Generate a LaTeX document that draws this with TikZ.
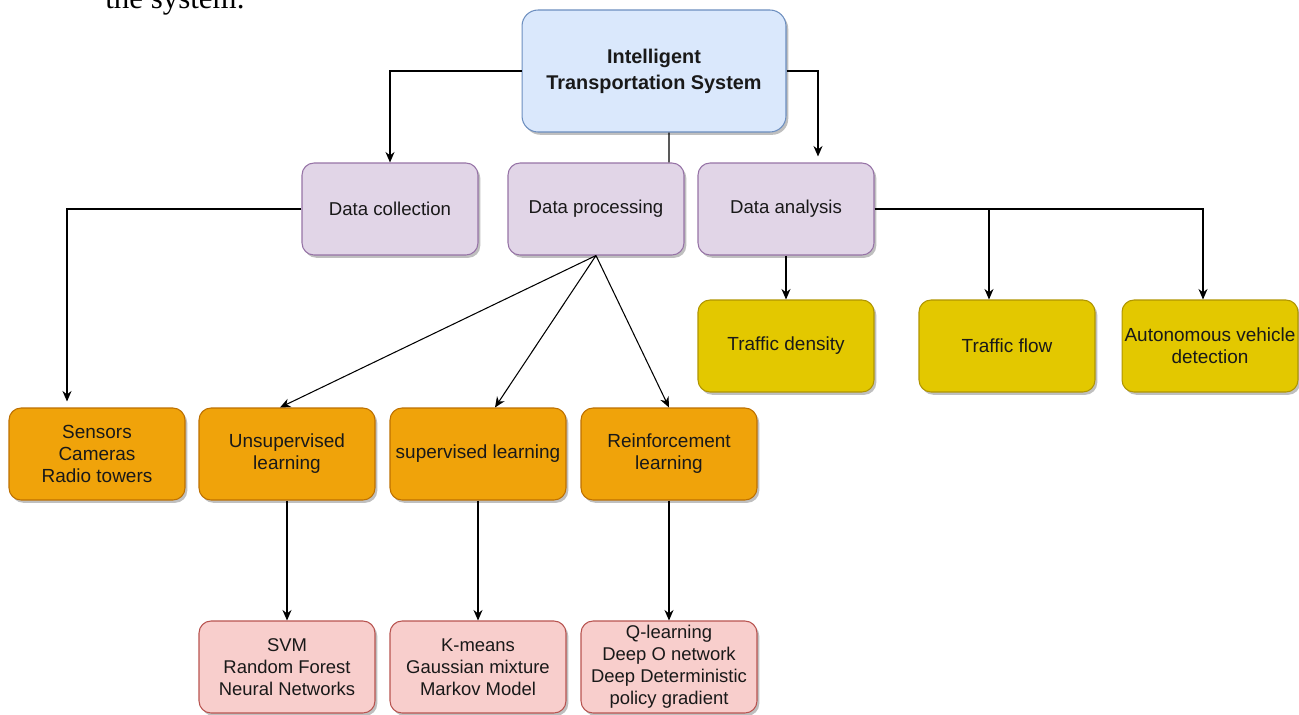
\documentclass[tikz,border=0pt]{standalone}
\usepackage{fontspec}
\setmainfont{Liberation Sans}
\newfontfamily\pageserif{Liberation Serif}
\usepackage{xcolor}
\usetikzlibrary{arrows.meta,positioning,shadows}
\definecolor{itsfill}{HTML}{DAE8FC}
\definecolor{itsedge}{HTML}{6C8EBF}
\definecolor{stagefill}{HTML}{E1D5E7}
\definecolor{stageedge}{HTML}{9673A6}
\definecolor{taskfill}{HTML}{E3C800}
\definecolor{taskedge}{HTML}{B09500}
\definecolor{methfill}{HTML}{F0A30A}
\definecolor{methedge}{HTML}{BD7000}
\definecolor{algfill}{HTML}{F8CECC}
\definecolor{algedge}{HTML}{B85450}

\begin{document}
\begin{tikzpicture}[
  x=0.02cm, y=-0.02cm,
  >={Stealth[length=2.1mm, width=1.8mm]},
  box/.style={rounded corners=0.24cm, line width=0.6pt, align=center,
              minimum width=3.52cm, minimum height=1.84cm, inner sep=1pt,
              text=black!90,
              drop shadow={shadow xshift=1.3pt, shadow yshift=-1.6pt,
                           opacity=0.25, fill=black}},
  top/.style={box, draw=itsedge, fill=itsfill, rounded corners=0.32cm,
              minimum width=5.28cm, minimum height=2.44cm,
              font=\bfseries\fontsize{11.3}{14.7}\selectfont},
  stage/.style={box, draw=stageedge, fill=stagefill,
                font=\fontsize{10.6}{12.5}\selectfont},
  task/.style={box, draw=taskedge, fill=taskfill,
               font=\fontsize{10.8}{12.5}\selectfont},
  meth/.style={box, draw=methedge, fill=methfill,
               font=\fontsize{10.8}{12.5}\selectfont},
  alg/.style={box, draw=algedge, fill=algfill,
              font=\fontsize{10.5}{12.6}\selectfont},
  link/.style={line width=0.6pt, black},
  arr/.style={->, line width=0.6pt, black},
]
\useasboundingbox (0,0) rectangle (1299,714);

% cut-off line of the surrounding page
\node[anchor=base west, inner sep=0pt, font=\pageserif\fontsize{17.6}{20}\selectfont]
  (pagetext) at (105,8) {the system.};

% root
\node[top] (its) at (654,71) {Intelligent\\Transportation System};

% stages
\node[stage] (dc) at (390,209) {Data collection};
\node[stage] (dp) at (596,209) {Data processing};
\node[stage] (da) at (786,209) {Data analysis};

% analysis tasks
\node[task] (td) at (786,346)  {Traffic density};
\node[task] (tf) at (1007,346) {Traffic flow};
\node[task] (av) at (1210,346) {Autonomous vehicle\\detection};

% sources and learning methods
\node[meth] (src) at (97,454)  {Sensors\\Cameras\\Radio towers};
\node[meth] (uns) at (287,454) {Unsupervised\\learning};
\node[meth] (sup) at (478,454) {supervised learning};
\node[meth] (rl)  at (669,454) {Reinforcement\\learning};

% algorithms
\node[alg] (a1) at (287,667) {SVM\\Random Forest\\Neural Networks};
\node[alg] (a2) at (478,667) {K-means\\Gaussian mixture\\Markov Model};
\node[alg] (a3) at (669,667) {Q-learning\\Deep O network\\Deep Deterministic\\policy gradient};

% root to stages
\draw[arr] (its.west) -| (dc.north);
\draw[arr] (its.east) -| ([xshift=0.64cm, yshift=0.12cm]da.north);
\draw[link] ([xshift=0.3cm]its.south) -- ([xshift=1.46cm]dp.north);

% collection
\draw[arr] (dc.west) -| ([xshift=-0.6cm, yshift=0.12cm]src.north);

% processing
\draw[arr] (dp.south) -- ([xshift=-0.14cm]uns.north);
\draw[arr] (dp.south) -- ([xshift=0.34cm]sup.north);
\draw[arr] (dp.south) -- (rl.north);

% analysis
\draw[arr] (da.south) -- (td.north);
\draw[arr] (da.east) -| ([xshift=-0.36cm]tf.north);
\draw[arr] (da.east) -| ([xshift=-0.14cm]av.north);

% methods to algorithms
\draw[arr] (uns.south) -- (a1.north);
\draw[arr] (sup.south) -- (a2.north);
\draw[arr] (rl.south) -- (a3.north);
\end{tikzpicture}
\end{document}
